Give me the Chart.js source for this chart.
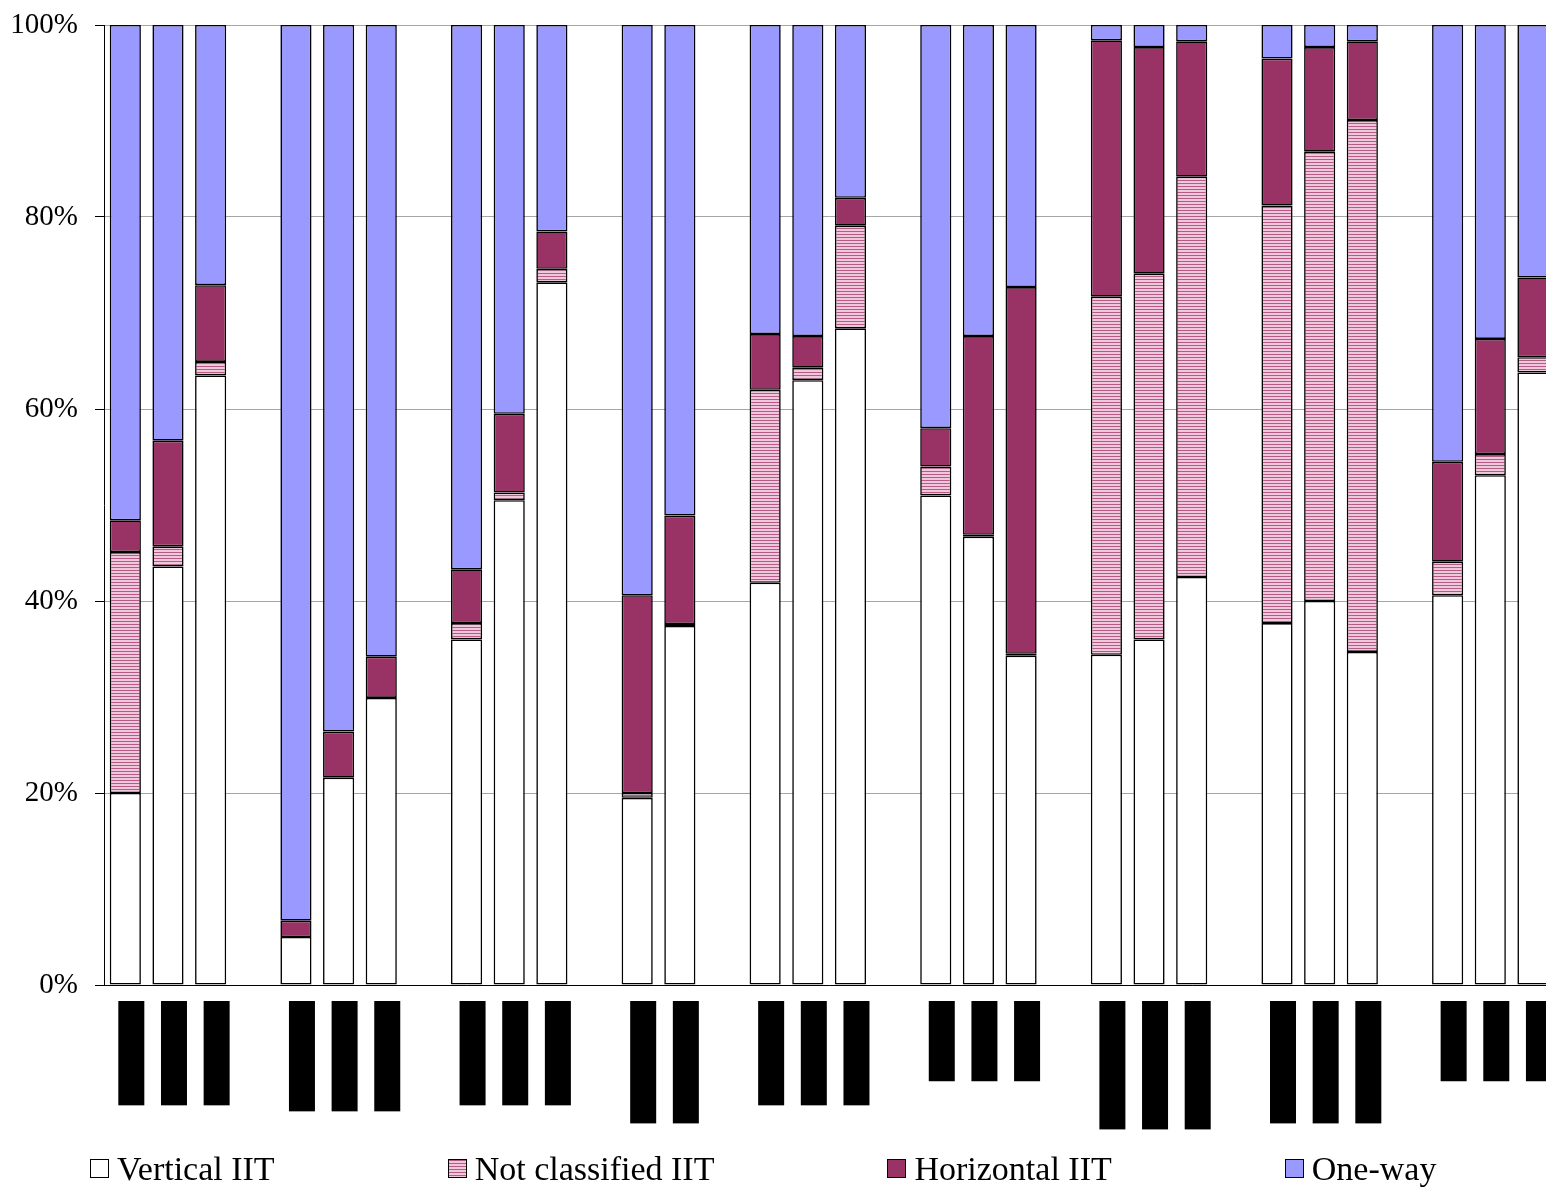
<!DOCTYPE html>
<html>
<head>
<meta charset="utf-8">
<script src="https://cdn.jsdelivr.net/npm/chart.js@4.4.1/dist/chart.umd.min.js"></script>
<style>
html,body{margin:0;padding:0;background:#fff;overflow:hidden;width:1546px;height:1188px;}
#wrap{position:relative;width:1565px;height:1188px;}
canvas{display:block;}
#legend{position:absolute;left:90px;top:1149px;display:flex;align-items:center;font-family:'Liberation Serif','Times New Roman',serif;font-size:34px;line-height:39px;color:#000;white-space:nowrap;}
.item{display:flex;align-items:center;margin-right:173px;}
.sw{width:17px;height:17px;border:1.5px solid #000;margin-right:8px;box-sizing:content-box;}
</style>
</head>
<body>
<div id="wrap">
<canvas id="c" width="1565" height="1188"></canvas>
<div id="legend"></div>
</div>
<script>
// Category labels (the original labels are blacked out in the reference; rendered as solid blocks)
const B = n => '\u2588'.repeat(n);
const categories = [
  B(16), B(16), B(16), '',
  B(17), B(17), B(17), '',
  B(16), B(16), B(16), '',
  B(19), B(19), '',
  B(16), B(16), B(16), '',
  B(12), B(12), B(12), '',
  B(20), B(20), B(20), '',
  B(19), B(19), B(19), '',
  B(12), B(12), B(12)
];
const seriesNames = ['Vertical IIT', 'Not classified IIT', 'Horizontal IIT', 'One-way'];
const verticalIIT = [
  20.0, 43.6, 63.5, null,
  5.0, 21.6, 29.9, null,
  36.0, 50.5, 73.2, null,
  19.5, 37.4, null,
  41.9, 63.0, 68.4, null,
  51.0, 46.7, 34.3, null,
  34.4, 36.0, 42.5, null,
  37.7, 40.0, 34.7, null,
  40.6, 53.1, 63.8
];
const notClassifiedIIT = [
  25.1, 2.1, 1.4, null,
  0, 0, 0, null,
  1.7, 0.8, 1.4, null,
  0.5, 0.2, null,
  20.1, 1.3, 10.7, null,
  3.0, 0.2, 0.2, null,
  37.3, 38.1, 41.7, null,
  43.5, 46.8, 55.4, null,
  3.5, 2.2, 1.6
];
const horizontalIIT = [
  3.3, 11.0, 8.0, null,
  1.7, 4.8, 4.3, null,
  5.6, 8.2, 3.9, null,
  20.6, 11.3, null,
  5.8, 3.3, 2.9, null,
  4.0, 20.7, 38.2, null,
  26.7, 23.6, 14.1, null,
  15.3, 10.9, 8.2, null,
  10.4, 12.0, 8.3
];
const oneWay = [
  51.6, 43.3, 27.1, null,
  93.3, 73.6, 65.8, null,
  56.7, 40.5, 21.5, null,
  59.4, 51.1, null,
  32.2, 32.4, 18.0, null,
  42.0, 32.4, 27.3, null,
  1.6, 2.3, 1.7, null,
  3.5, 2.3, 1.7, null,
  45.5, 32.7, 26.3
];
const yTicks = [0, 20, 40, 60, 80, 100];

function stripePattern() {
  const p = document.createElement('canvas');
  p.width = 4; p.height = 3;
  const g = p.getContext('2d');
  g.fillStyle = '#f0c8dc'; g.fillRect(0, 0, 4, 3);
  g.fillStyle = '#b85a88'; g.fillRect(0, 0, 4, 1);
  return g.createPattern(p, 'repeat');
}
const pattern = stripePattern();
const colors = ['#ffffff', pattern, '#993366', '#9999ff'];
const legendCss = ['#ffffff', 'repeating-linear-gradient(to bottom,#b85a88 0px,#b85a88 1px,#f0c8dc 1px,#f0c8dc 3px)', '#993366', '#9999ff'];

const chart = new Chart(document.getElementById('c'), {
  type: 'bar',
  data: {
    labels: categories,
    datasets: [verticalIIT, notClassifiedIIT, horizontalIIT, oneWay].map((d, i) => ({
      label: seriesNames[i], data: d, backgroundColor: colors[i]
    }))
  },
  options: {
    responsive: false,
    animation: false,
    devicePixelRatio: 1,
    layout: { padding: { top: 25, right: 4, left: 0, bottom: 0 } },
    datasets: { bar: { categoryPercentage: 1, barPercentage: 0.73, borderColor: '#000', borderWidth: 1.6, borderSkipped: false } },
    plugins: { legend: { display: false }, tooltip: { enabled: false } },
    scales: {
      x: {
        stacked: true,
        grid: { display: false, drawTicks: false, tickLength: 0 },
        border: { display: true, color: '#000', width: 1 },
        ticks: {
          autoSkip: false, maxRotation: 90, minRotation: 90, padding: 20, color: '#000',
          font: { family: 'DejaVu Sans Mono', size: 10, lineHeight: 1.2 },
          showLabelBackdrop: (c) => !!(c.tick && c.tick.label),
          backdropColor: '#000',
          backdropPadding: { top: 7, bottom: 7, left: 4, right: 4 }
        },
        afterFit: (s) => { s.height = 203; }
      },
      y: {
        stacked: true, min: 0, max: 100,
        afterBuildTicks: (s) => { s.ticks = yTicks.map(v => ({ value: v })); },
        ticks: { callback: v => v + '%', padding: 17, color: '#000', font: { family: 'Liberation Serif', size: 29 } },
        grid: { color: '#a6a6a6', tickColor: '#000', tickLength: 9, lineWidth: 1 },
        border: { color: '#000', width: 1 },
        afterFit: (s) => { s.width = 104; s.paddingTop = 0; s.paddingBottom = 0; }
      }
    }
  }
});

const lg = document.getElementById('legend');
seriesNames.forEach((n, i) => {
  const it = document.createElement('div'); it.className = 'item';
  const sw = document.createElement('div'); sw.className = 'sw'; sw.style.background = legendCss[i];
  const tx = document.createElement('span'); tx.textContent = n;
  it.appendChild(sw); it.appendChild(tx); lg.appendChild(it);
});
</script>
</body>
</html>
